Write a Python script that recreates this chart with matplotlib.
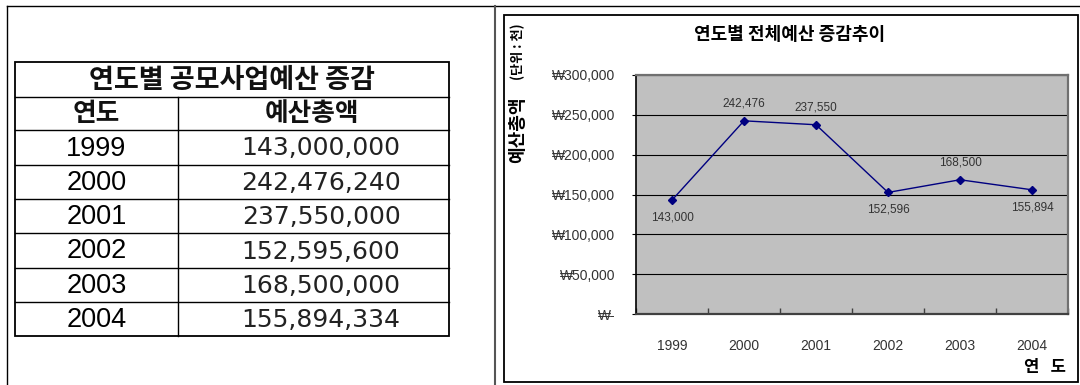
import matplotlib
matplotlib.use("Agg")
import matplotlib.pyplot as plt
from matplotlib.ticker import FixedLocator, FuncFormatter

plt.rcParams['font.family'] = ['Noto Sans CJK KR', 'DejaVu Sans']

# Budget table data (won)
years = ["1999", "2000", "2001", "2002", "2003", "2004"]
budgets = [143000000, 242476240, 237550000, 152595600, 168500000, 155894334]

table_title = "연도별 공모사업예산 증감"
col_headers = ["연도", "예산총액"]
chart_title = "연도별 전체예산 증감추이"
y_label_main = "예산총액"
y_label_unit = "(단위 : 천)"
x_label = "연   도"
y_ticks = [0, 50000, 100000, 150000, 200000, 250000, 300000]

# chart values in thousands of won
budgets_k = [b / 1000 for b in budgets]

W, H = 1080, 385
fig = plt.figure(figsize=(W / 100, H / 100), dpi=100)
fig.patch.set_facecolor("white")

# full-figure pixel canvas for frames and the table
bg = fig.add_axes([0, 0, 1, 1])
bg.set_xlim(0, W)
bg.set_ylim(H, 0)
bg.axis("off")

# outer frames
bg.plot([7, W], [6, 6], color="black", lw=1.0)
bg.plot([7, 7], [6, H], color="black", lw=1.0)
bg.plot([495, 495], [6, H], color="#555555", lw=1.5)
bg.add_patch(plt.Rectangle((504, 15), 574, 367, fill=False, ec="black", lw=1.3))

# table grid
tx0, tx1, tcol = 15, 449, 178
row_y = [62, 97, 130, 165, 199, 233, 268, 302, 336]
bg.add_patch(plt.Rectangle((tx0, row_y[0]), tx1 - tx0, row_y[-1] - row_y[0],
                           fill=False, ec="black", lw=1.3))
for yy in row_y[1:-1]:
    bg.plot([tx0, tx1], [yy, yy], color="black", lw=1.0)
bg.plot([tcol, tcol], [row_y[1], row_y[-1]], color="black", lw=1.0)

bg.text((tx0 + tx1) / 2, (row_y[0] + row_y[1]) / 2, table_title,
        ha="center", va="center", fontsize=19.5, fontweight="bold", color="#111111")
bg.text(96, (row_y[1] + row_y[2]) / 2, col_headers[0],
        ha="center", va="center", fontsize=18.5, fontweight="bold", color="#111111")
bg.text(312, (row_y[1] + row_y[2]) / 2, col_headers[1],
        ha="center", va="center", fontsize=18.5, fontweight="bold", color="#111111")
for i, (yr, b) in enumerate(zip(years, budgets)):
    yc = (row_y[i + 2] + row_y[i + 3]) / 2
    bg.text(96.5, yc + 1, yr, ha="center", va="center", fontsize=19.5,
            family=["Liberation Sans", "DejaVu Sans"], color="black")
    bg.text(321, yc + 1, f"{b:,}", ha="center", va="center", fontsize=18,
            family=["DejaVu Sans"], color="#222222")

# chart titles and axis labels
bg.text(790, 35, chart_title, ha="center", va="center", fontsize=13,
        fontweight="bold", color="black")
bg.text(518, 130, y_label_main, ha="center", va="center", rotation=90,
        fontsize=13, fontweight="bold", color="black")
bg.text(518, 52, y_label_unit, ha="center", va="center", rotation=90,
        fontsize=9.5, fontweight="bold", color="black")
bg.text(1045, 367, x_label, ha="center", va="center", fontsize=12,
        fontweight="bold", color="black")

# line chart
px0, py0, px1, py1 = 636, 75, 1068, 314
ax = fig.add_axes([px0 / W, (H - py1) / H, (px1 - px0) / W, (py1 - py0) / H])
ax.set_facecolor("#C0C0C0")
x = list(range(len(years)))
ax.plot(x, budgets_k, color="#000080", lw=1.0, marker="D", markersize=4.5,
        markerfacecolor="#000080", markeredgecolor="#000080", zorder=3)
ax.set_xlim(-0.5, len(years) - 0.5)
ax.set_ylim(0, 300000)

ax.yaxis.set_major_locator(FixedLocator(y_ticks))
ax.yaxis.set_major_formatter(FuncFormatter(
    lambda v, p: "₩-" if v == 0 else f"₩{v:,.0f}"))
ax.tick_params(axis="y", direction="out", length=3, width=0.8, pad=12,
               labelsize=10, labelcolor="#333333")
for lbl in ax.get_yticklabels():
    lbl.set_family(["Liberation Sans", "DejaVu Sans"])

ax.xaxis.set_major_locator(FixedLocator([i - 0.5 for i in range(len(years) + 1)]))
ax.xaxis.set_major_formatter(FuncFormatter(lambda v, p: ""))
ax.xaxis.set_minor_locator(FixedLocator(x))
ax.xaxis.set_minor_formatter(FuncFormatter(lambda v, p: years[int(round(v))]))
ax.tick_params(axis="x", which="major", direction="in", length=4, width=1,
               color="#404040")
ax.tick_params(axis="x", which="minor", length=0, pad=18, labelsize=10,
               labelcolor="#333333")
for lbl in ax.xaxis.get_minorticklabels():
    lbl.set_family(["Liberation Sans", "DejaVu Sans"])

ax.yaxis.grid(True, color="black", lw=0.8)
ax.set_axisbelow(True)
ax.spines["left"].set_color("black")
ax.spines["left"].set_linewidth(1.2)
ax.spines["bottom"].set_color("#404040")
ax.spines["bottom"].set_linewidth(1.6)
for s in ("top", "right"):
    ax.spines[s].set_color("#707070")
    ax.spines[s].set_linewidth(1.6)

# value labels (above or below each point)
above = [False, True, True, False, True, False]
for xi, v, up in zip(x, budgets_k, above):
    ax.annotate(f"{v:,.0f}", (xi, v), textcoords="offset points",
                xytext=(0, 12.5 if up else -12.5), ha="center", va="center",
                fontsize=8.5, color="#333333",
                family=["Liberation Sans", "DejaVu Sans"])

fig.savefig("out.png", dpi=100, facecolor="white")
